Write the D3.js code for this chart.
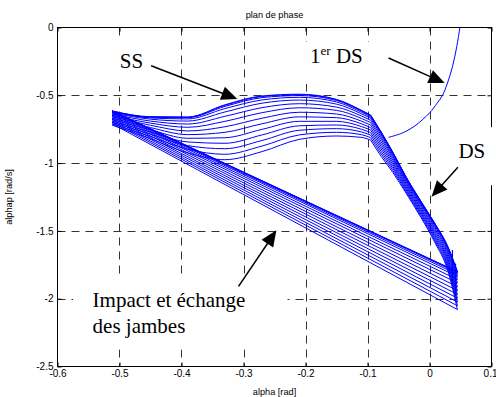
<!DOCTYPE html>
<html><head><meta charset="utf-8">
<script src="https://cdn.jsdelivr.net/npm/d3@7"></script>
<style>body{margin:0;background:#fff}svg{display:block}</style>
</head><body><svg id="c" width="496" height="397"></svg>
<script>
// ---------- data ----------
const xTicks = [-0.6,-0.5,-0.4,-0.3,-0.2,-0.1,0,0.1];
const xTickLabels = ["-0.6","-0.5","-0.4","-0.3","-0.2","-0.1","0","0.1"];
const yTicks = [0,-0.5,-1,-1.5,-2,-2.5];
const yTickLabels = ["0","-0.5","-1","-1.5","-2","-2.5"];
const xGrid = [-0.5,-0.4,-0.3,-0.2,-0.1,0];
const yGrid = [-0.5,-1,-1.5,-2];

// single support (SS) phase, one row per step (first step first)
const ssX = [-0.512,-0.45,-0.39,-0.33,-0.27,-0.21,-0.15,-0.11,-0.095];
const ssY = [
 [-0.720,-0.820,-0.925,-0.975,-0.915,-0.825,-0.800,-0.810,-0.830],
 [-0.710,-0.804,-0.898,-0.935,-0.874,-0.792,-0.773,-0.790,-0.812],
 [-0.699,-0.787,-0.871,-0.894,-0.833,-0.758,-0.746,-0.770,-0.793],
 [-0.689,-0.771,-0.844,-0.854,-0.792,-0.725,-0.719,-0.750,-0.775],
 [-0.678,-0.754,-0.817,-0.813,-0.751,-0.692,-0.692,-0.730,-0.756],
 [-0.668,-0.738,-0.790,-0.773,-0.710,-0.659,-0.665,-0.710,-0.738],
 [-0.657,-0.721,-0.763,-0.732,-0.669,-0.625,-0.638,-0.690,-0.719],
 [-0.647,-0.705,-0.736,-0.692,-0.628,-0.592,-0.611,-0.670,-0.701],
 [-0.637,-0.690,-0.712,-0.655,-0.591,-0.562,-0.587,-0.652,-0.684],
 [-0.629,-0.676,-0.690,-0.623,-0.558,-0.535,-0.565,-0.636,-0.669],
 [-0.622,-0.667,-0.674,-0.598,-0.534,-0.515,-0.549,-0.624,-0.658],
 [-0.618,-0.662,-0.665,-0.582,-0.517,-0.502,-0.538,-0.616,-0.651],
 [-0.616,-0.660,-0.662,-0.574,-0.509,-0.495,-0.533,-0.612,-0.647],
 [-0.615,-0.658,-0.660,-0.570,-0.505,-0.492,-0.530,-0.610,-0.645]
];
// double support (DS) phase, one row per step
const dsX = [-0.095,-0.078,-0.059,-0.038,-0.014,0.008,0.030,0.045];
const dsY = [
 [-0.830,-0.950,-1.070,-1.220,-1.400,-1.580,-1.800,-2.080],
 [-0.812,-0.932,-1.055,-1.208,-1.388,-1.566,-1.782,-2.052],
 [-0.793,-0.914,-1.040,-1.196,-1.376,-1.552,-1.764,-2.024],
 [-0.775,-0.896,-1.025,-1.184,-1.364,-1.538,-1.746,-1.996],
 [-0.756,-0.878,-1.010,-1.172,-1.352,-1.524,-1.728,-1.968],
 [-0.738,-0.860,-0.995,-1.160,-1.340,-1.510,-1.710,-1.940],
 [-0.719,-0.842,-0.980,-1.148,-1.328,-1.496,-1.692,-1.912],
 [-0.701,-0.824,-0.965,-1.136,-1.316,-1.482,-1.674,-1.884],
 [-0.684,-0.808,-0.952,-1.125,-1.305,-1.469,-1.658,-1.859],
 [-0.669,-0.793,-0.940,-1.116,-1.296,-1.458,-1.643,-1.836],
 [-0.658,-0.783,-0.931,-1.108,-1.288,-1.450,-1.633,-1.820],
 [-0.651,-0.775,-0.925,-1.104,-1.284,-1.444,-1.625,-1.808],
 [-0.647,-0.772,-0.922,-1.101,-1.281,-1.441,-1.622,-1.803],
 [-0.645,-0.770,-0.920,-1.100,-1.280,-1.440,-1.620,-1.800]
];
// short vertical spikes at the end of some DS phases
const spikeX = [0.037,0.042];
const spikeTop = [-1.64,-1.74];
const spikeBottom = [-1.90,-1.98];
// first double support (1er DS)
const firstDSX = [-0.066,-0.045,-0.025,0.000,0.012,0.021,0.029,0.037,0.044,0.049,0.051];
const firstDSY = [-0.810,-0.780,-0.730,-0.630,-0.560,-0.500,-0.410,-0.290,-0.140,0.000,0.060];

// annotations (data coordinates)
const labelText = ["SS","DS"];
const labelX = [-0.4995,0.0466];
const labelY = [-0.299,-0.964];
const arrowX1 = [-0.449,-0.066,0.0458,-0.308];
const arrowY1 = [-0.282,-0.225,-1.030,-1.909];
const arrowX2 = [-0.310,0.0245,0.0033,-0.247];
const arrowY2 = [-0.528,-0.410,-1.248,-1.496];
const boxX0 = [-0.512,-0.208,0.0087,-0.575];
const boxX1 = [-0.447,-0.092,0.109,-0.229];
const boxY0 = [-0.092,-0.107,-0.735,-1.835];
const boxY1 = [-0.432,-0.417,-1.163,-2.374];

// ---------- drawing ----------
(function(){
const svg = d3.select("#c");
const L = 57.5, R = 491.5, T = 27.5, B = 366.5;
const x = d3.scaleLinear().domain([-0.6,0.1]).range([L,R]);
const y = d3.scaleLinear().domain([-2.5,0]).range([B,T]);
const sans = "Liberation Sans, Arial, Helvetica, sans-serif";
const serif = "Liberation Serif, Times New Roman, serif";

svg.append("rect").attr("width",496).attr("height",397).attr("fill","#fff");
svg.append("defs").append("clipPath").attr("id","clip")
  .append("rect").attr("x",L).attr("y",T).attr("width",R-L).attr("height",B-T);

// grid
const grid = svg.append("g").attr("stroke","#333").attr("stroke-width",1).attr("stroke-dasharray","8,6");
grid.selectAll("line.v").data(xGrid).join("line").attr("class","v")
  .attr("x1",d=>Math.round(x(d))+0.5).attr("x2",d=>Math.round(x(d))+0.5).attr("y1",T).attr("y2",B);
grid.selectAll("line.h").data(yGrid).join("line").attr("class","h")
  .attr("y1",d=>Math.round(y(d))+0.5).attr("y2",d=>Math.round(y(d))+0.5).attr("x1",L).attr("x2",R);

// data
const plot = svg.append("g").attr("clip-path","url(#clip)").attr("fill","none").attr("stroke","#0000ff");
const lineM = d3.line().x(d=>x(d[0])).y(d=>y(d[1])).curve(d3.curveMonotoneX);
const lineS = d3.line().x(d=>x(d[0])).y(d=>y(d[1]));
const n = ssY.length;
for (let k=0;k<n;k++){
  plot.append("path").attr("stroke-width",1).attr("d",lineM(ssX.map((v,i)=>[v,ssY[k][i]])));
  plot.append("path").attr("stroke-width",1).attr("d",lineM(dsX.map((v,i)=>[v,dsY[k][i]])));
  const nxt = Math.min(k+1,n-1);
  plot.append("path").attr("stroke-width",1)
    .attr("d",lineS([[dsX[dsX.length-1],dsY[k][dsX.length-1]],[ssX[0],ssY[nxt][0]]]));
}
spikeX.forEach((v,i)=>{
  plot.append("path").attr("stroke-width",1.2).attr("d",lineS([[v,spikeTop[i]],[v,spikeBottom[i]]]));
});
plot.append("path").attr("stroke-width",1)
  .attr("d",d3.line().x(d=>x(d[0])).y(d=>y(d[1])).curve(d3.curveCatmullRom)(firstDSX.map((v,i)=>[v,firstDSY[i]])));

// axes
const ax = svg.append("g").attr("font-family",sans).attr("font-size","8.7px");
ax.append("g").attr("transform",`translate(0,${B})`)
  .call(d3.axisBottom(x).tickValues(xTicks).tickFormat((d,i)=>xTickLabels[i]).tickSizeInner(-4).tickSizeOuter(0).tickPadding(3));
ax.append("g").attr("transform",`translate(${L},0)`)
  .call(d3.axisLeft(y).tickValues(yTicks).tickFormat((d,i)=>yTickLabels[i]).tickSizeInner(-4).tickSizeOuter(0).tickPadding(4));
ax.append("g").attr("transform",`translate(0,${T})`)
  .call(d3.axisTop(x).tickValues(xTicks).tickFormat("").tickSizeInner(-4).tickSizeOuter(0));
ax.append("g").attr("transform",`translate(${R},0)`)
  .call(d3.axisRight(y).tickValues(yTicks).tickFormat("").tickSizeInner(-4).tickSizeOuter(0));
ax.selectAll(".domain").remove();
ax.selectAll(".tick line").attr("stroke","#000");
ax.selectAll("text").attr("fill","#000");
// keep the last x label inside the window
ax.selectAll("text").filter(function(){return this.textContent==="0.1";})
  .attr("text-anchor","end").attr("dx","5.5");
svg.append("rect").attr("x",L).attr("y",T).attr("width",R-L).attr("height",B-T)
  .attr("fill","none").attr("stroke","#000").attr("stroke-width",1);

// titles
svg.append("text").attr("x",(L+R)/2).attr("y",18).attr("text-anchor","middle")
  .attr("font-family",sans).attr("font-size","9.2px").text("plan de phase");
svg.append("text").attr("x",(L+R)/2).attr("y",395).attr("text-anchor","middle")
  .attr("font-family",sans).attr("font-size","9.2px").text("alpha [rad]");
svg.append("text").attr("transform",`translate(12,${(T+B)/2}) rotate(-90)`).attr("text-anchor","middle")
  .attr("font-family",sans).attr("font-size","9.2px").text("alphap [rad/s]");

// white text boxes
boxX0.forEach((v,i)=>{
  svg.append("rect").attr("x",x(v)).attr("y",y(boxY0[i]))
    .attr("width",x(boxX1[i])-x(v)).attr("height",y(boxY1[i])-y(boxY0[i])).attr("fill","#fff");
});

// annotation texts
const ann = svg.append("g").attr("font-family",serif).attr("font-size","21px").attr("fill","#000");
labelText.forEach((t,i)=>{
  ann.append("text").attr("x",x(labelX[i])).attr("y",y(labelY[i])).text(t);
});
const t1 = ann.append("text").attr("x",x(-0.1926)).attr("y",y(-0.264));
t1.append("tspan").text("1");
t1.append("tspan").attr("font-size","13px").attr("dy",-8).text("er");
t1.append("tspan").attr("dy",8).text(" DS");
ann.append("text").attr("x",x(-0.5434)).attr("y",y(-2.064)).text("Impact et échange");
ann.append("text").attr("x",x(-0.5434)).attr("y",y(-2.256)).text("des jambes");

// arrows
arrowX1.forEach((v,i)=>{
  const x1=x(v), y1=y(arrowY1[i]), x2=x(arrowX2[i]), y2=y(arrowY2[i]);
  const dx=x2-x1, dy=y2-y1, len=Math.hypot(dx,dy), ux=dx/len, uy=dy/len;
  const hl=16, hw=7;
  const bx=x2-ux*hl, by=y2-uy*hl;
  svg.append("line").attr("x1",x1).attr("y1",y1).attr("x2",bx+ux*2).attr("y2",by+uy*2)
    .attr("stroke","#000").attr("stroke-width",1.5);
  svg.append("path").attr("fill","#000")
    .attr("d",`M${x2},${y2}L${bx-uy*hw},${by+ux*hw}L${bx+uy*hw},${by-ux*hw}Z`);
});
})();
</script></body></html>
